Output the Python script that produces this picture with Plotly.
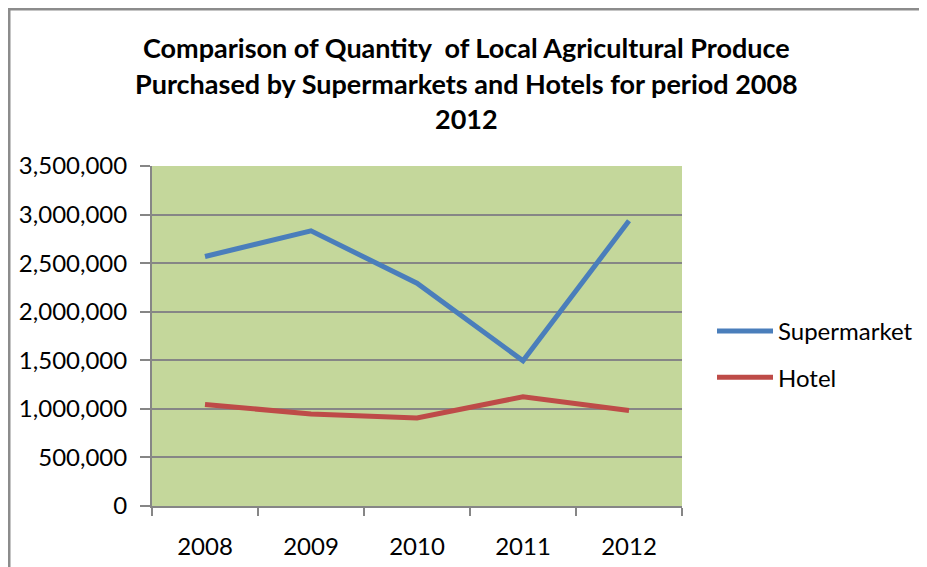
import plotly.graph_objects as go

years = ["2008", "2009", "2010", "2011", "2012"]
supermarket = [2568000, 2833000, 2293000, 1495000, 2936000]
hotel = [1046000, 946000, 907000, 1124000, 984000]
ytick_vals = [0, 500000, 1000000, 1500000, 2000000, 2500000, 3000000, 3500000]
title_lines = [
    "Comparison of Quantity  of Local Agricultural Produce",
    "Purchased by Supermarkets and Hotels for period 2008",
    "2012",
]

FONT = "Lato"
W, H = 927, 567
OFF = 8  # page offset of the figure (body margin)
# plot area in page pixels
PX0, PX1, PY0, PY1 = 152, 682, 166, 506
L = PX0 - OFF
T = PY0 - OFF
R = W - (PX1 - OFF)
B = H - (PY1 - OFF)

fig = go.Figure()
fig.add_trace(go.Scatter(x=years, y=supermarket, name="Supermarket", mode="lines",
                         legendgroup="a", line=dict(color="#4A7EBB", width=5)))
fig.add_trace(go.Scatter(x=years, y=hotel, name="Hotel", mode="lines",
                         legendgroup="b", line=dict(color="#BE4B48", width=5)))

pw, ph = PX1 - PX0, PY1 - PY0
def pxx(px):  # page x -> paper
    return (px - PX0) / pw
def pxy(py):  # page y -> paper
    return (PY1 - py) / ph

annotations = []
for txt, y in zip(title_lines, [48, 83, 118]):
    annotations.append(dict(text=f"<b>{txt}</b>", x=pxx(466), y=pxy(y),
                            xref="paper", yref="paper", showarrow=False,
                            xanchor="center", yanchor="middle",
                            font=dict(family=FONT, size=27, color="black")))

grey = "#868686"
fig.update_layout(
    width=W, height=H,
    margin=dict(l=L, r=R, t=T, b=B, pad=0),
    paper_bgcolor="white",
    plot_bgcolor="#C4D79B",
    font=dict(family=FONT, size=24, color="black"),
    showlegend=True,
    legend=dict(x=pxx(712), y=pxy(309), xanchor="left", yanchor="top",
                bgcolor="rgba(0,0,0,0)", font=dict(family=FONT, size=24),
                tracegroupgap=12, itemwidth=56),
    annotations=annotations,
    xaxis=dict(type="category", range=[-0.5, 4.5], tickson="boundaries",
               ticks="outside", ticklen=8, tickwidth=2, tickcolor=grey,
               showgrid=False, showline=True, linecolor=grey, linewidth=2,
               tickfont=dict(family=FONT, size=24), ticklabelstandoff=18, fixedrange=True),
    yaxis=dict(range=[0, 3500000], tickvals=ytick_vals,
               ticktext=[f"{v:,}" for v in ytick_vals],
               ticks="outside", ticklen=10, tickwidth=2, tickcolor=grey,
               showgrid=True, gridcolor=grey, gridwidth=2,
               showline=True, linecolor=grey, linewidth=2, zeroline=False,
               tickfont=dict(family=FONT, size=24), ticklabelstandoff=8, fixedrange=True),
    shapes=[
        dict(type="line", xref="paper", yref="paper",
             x0=pxx(9), x1=pxx(9), y0=pxy(8), y1=pxy(600),
             line=dict(color="#8C8C8C", width=3)),
        dict(type="line", xref="paper", yref="paper",
             x0=pxx(8), x1=pxx(960), y0=pxy(9), y1=pxy(9),
             line=dict(color="#8C8C8C", width=3)),
    ],
)

fig.write_html("out.html")
